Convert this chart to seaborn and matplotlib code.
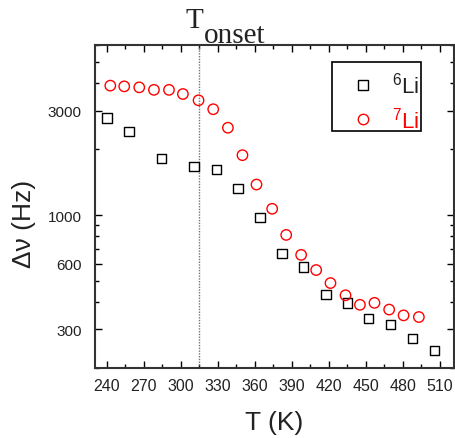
import matplotlib
matplotlib.use("Agg")
import matplotlib.pyplot as plt
import matplotlib.ticker as mticker
from matplotlib.patches import Rectangle
import numpy as np
import pandas as pd
import seaborn as sns

# 6Li linewidth vs temperature
t_li6 = [240.0, 257.8, 284.3, 310.6, 328.6, 346.3, 364.1, 382.0, 399.4, 417.6,
         434.9, 452.2, 470.0, 487.8, 505.7]
dnu_li6 = [2780, 2410, 1810, 1670, 1620, 1320, 976, 668, 579, 434,
           396, 338, 317, 272, 241]

# 7Li linewidth vs temperature
t_li7 = [242.7, 254.0, 266.2, 278.1, 290.3, 301.6, 314.3, 326.2, 338.1, 349.9,
         361.3, 374.0, 385.4, 397.5, 409.7, 421.3, 433.5, 445.2, 457.0, 468.9,
         480.6, 493.0]
dnu_li7 = [3910, 3880, 3840, 3740, 3740, 3580, 3350, 3050, 2510, 1880,
           1380, 1069, 812, 658, 561, 489, 430, 389, 397, 370,
           348, 342]

series_labels = ["$^{6}$Li", "$^{7}$Li"]
series_colors = ["black", "red"]
t_onset = 314.3
x_ticks = [240, 270, 300, 330, 360, 390, 420, 450, 480, 510]
y_ticks = [300, 600, 1000, 3000]

sns.set_theme(style="ticks")
plt.rcParams["font.family"] = ["Liberation Sans", "DejaVu Sans"]
plt.rcParams["mathtext.fontset"] = "custom"
plt.rcParams["mathtext.rm"] = "Liberation Sans"
plt.rcParams["mathtext.it"] = "Liberation Sans:italic"

df6 = pd.DataFrame({"T": t_li6, "dnu": dnu_li6})
df7 = pd.DataFrame({"T": t_li7, "dnu": dnu_li7})

fig = plt.figure(figsize=(4.55, 4.39), dpi=100)
ax = fig.add_axes([0.2088, 0.1595, 0.789, 0.7358])

sns.scatterplot(data=df6, x="T", y="dnu", marker="s", s=44,
                facecolors="none", edgecolor=series_colors[0], linewidth=1.0,
                ax=ax, zorder=3)
sns.scatterplot(data=df7, x="T", y="dnu", marker="o", s=56,
                facecolors="none", edgecolor=series_colors[1], linewidth=1.0,
                ax=ax, zorder=3)

ax.axvline(t_onset, color="0.45", linestyle=(0, (1, 1)), linewidth=1.0, zorder=1)

ax.set_yscale("log")
ax.set_xlim(230.3, 521.5)
ax.set_ylim(200, 6000)
ax.set_xticks(x_ticks)
ax.xaxis.set_minor_locator(mticker.MultipleLocator(15))
ax.set_yticks(y_ticks)
ax.set_yticklabels([str(v) for v in y_ticks])
ax.yaxis.set_minor_locator(mticker.LogLocator(base=10, subs=np.arange(2, 10)))
ax.yaxis.set_minor_formatter(mticker.NullFormatter())

ax.tick_params(which="both", direction="in", top=True, right=True,
               color="black", width=1.0, labelsize=11, labelcolor="#222222")
ax.tick_params(which="major", length=5)
ax.tick_params(which="minor", length=3)
ax.tick_params(axis="x", which="major", pad=7.5, labelsize=11.5)
ax.tick_params(axis="y", which="major", pad=9.5)
for sp in ax.spines.values():
    sp.set_color("#333333")
    sp.set_linewidth(1.5)

ax.set_xlabel("T (K)", fontsize=19, labelpad=12, color="#222222")
ax.set_ylabel("Δν (Hz)", fontsize=19, color="#222222")
ax.yaxis.set_label_coords(-0.165, 0.45)

# T_onset annotation above the dotted line
fig.text(0.408, 0.937, "T", fontsize=21, family="Liberation Serif", color="#222222")
fig.text(0.4484, 0.902, "onset", fontsize=21, family="Liberation Serif", color="#222222")

# Legend box with marker keys and isotope labels
ax.add_patch(Rectangle((0.660, 0.734), 0.248, 0.213, transform=ax.transAxes,
                       facecolor="white", edgecolor="black", linewidth=1.2,
                       zorder=4, clip_on=False))
ax.plot([0.747], [0.877], transform=ax.transAxes, marker="s", markersize=6.6,
        markerfacecolor="none", markeredgecolor=series_colors[0],
        markeredgewidth=1.0, linestyle="none", zorder=5)
ax.plot([0.747], [0.771], transform=ax.transAxes, marker="o", markersize=7.5,
        markerfacecolor="none", markeredgecolor=series_colors[1],
        markeredgewidth=1.0, linestyle="none", zorder=5)
ax.text(0.904, 0.853, series_labels[0], transform=ax.transAxes, ha="right",
        va="baseline", fontsize=16, color="#222222", zorder=5)
ax.text(0.904, 0.745, series_labels[1], transform=ax.transAxes, ha="right",
        va="baseline", fontsize=16, color=series_colors[1], zorder=5)

fig.savefig("out.png", dpi=100)
